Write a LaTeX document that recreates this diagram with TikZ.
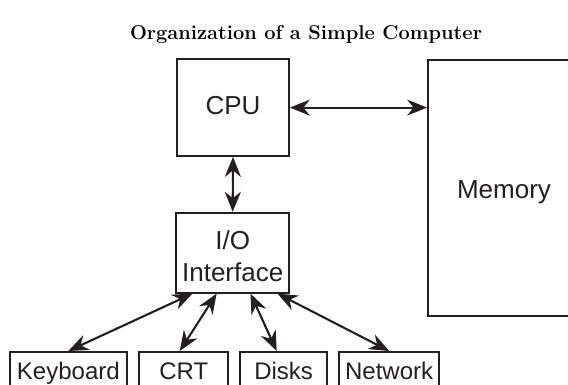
\documentclass[tikz,border=0pt]{standalone}
\usepackage{fontspec}
\newfontfamily\hv{Liberation Sans}
\usetikzlibrary{arrows.meta,calc}
\definecolor{ink}{RGB}{35,31,32}
\tikzset{
  box/.style={draw=ink, line width=1.8pt, rectangle, inner sep=0pt, text=ink},
  big/.style={font=\hv\fontsize{26}{30}\selectfont, text height=19pt, text depth=5.4pt},
  small/.style={font=\hv\fontsize{24}{28}\selectfont, text height=17.5pt, text depth=5pt},
  lbl/.style={inner sep=0pt, font=\hv\fontsize{26}{30}\selectfont, text=ink},
  tip/.tip={Stealth[length=20pt,width=16pt,inset=6.5pt]},
  link/.style={draw=ink, line width=2.1pt, tip-tip}
}
\begin{document}
\begin{tikzpicture}[x=1pt,y=-1pt]
\useasboundingbox (0,0) rectangle (568,385);
\clip (0,0) rectangle (568,385);
\node[inner sep=0pt, font={\fontsize{20}{24}\selectfont\bfseries}, anchor=base] (title) at (306,40) {Organization of a Simple Computer};
\node[box, big, minimum width=112pt, minimum height=96.7pt] (cpu) at (233,107.6) {CPU};
\node[box, minimum width=152pt, minimum height=256pt] (mem) at (504,188) {};
\node[lbl, anchor=base] (memt) at (504,199) {Memory};
\node[box, minimum width=113pt, minimum height=80pt] (io) at (232.7,252.7) {};
\node[lbl, anchor=base] (iot1) at (232.7,249.3) {I/O};
\node[lbl, anchor=base] (iot2) at (232.7,281) {Interface};
\node[box, small, anchor=north, minimum width=116.7pt, minimum height=43.5pt] (kb) at (68.35,351) {Keyboard};
\node[box, small, anchor=north, minimum width=89pt, minimum height=43.5pt] (crt) at (183.8,351) {CRT};
\node[box, small, anchor=north, minimum width=87.3pt, minimum height=43.5pt] (dsk) at (283.65,351) {Disks};
\node[box, small, anchor=north, minimum width=100.3pt, minimum height=43.5pt] (net) at (389.15,351) {Network};
\draw[link] (cpu.east) -- (cpu.east -| mem.west);
\draw[link] (cpu.south) -- (io.north);
\draw[link] ($(io.south west)!0.15!(io.south east)$) -- (kb.north);
\draw[link] ($(io.south west)!0.36!(io.south east)$) -- ([xshift=-4pt]crt.north);
\draw[link] ($(io.south west)!0.655!(io.south east)$) -- ([xshift=-7pt]dsk.north);
\draw[link] ($(io.south west)!0.89!(io.south east)$) -- (net.north);
\end{tikzpicture}
\end{document}
